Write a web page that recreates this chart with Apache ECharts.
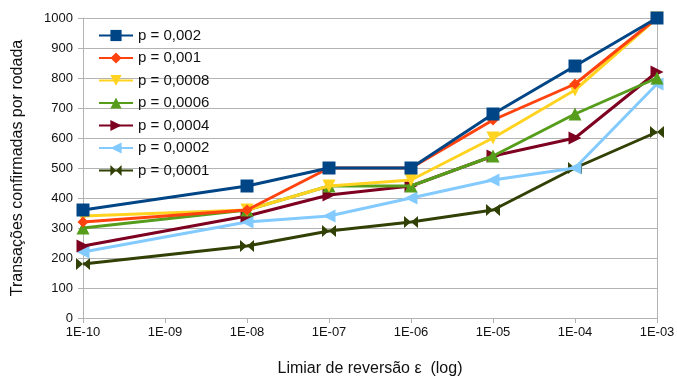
<!DOCTYPE html>
<html><head><meta charset="utf-8">
<script src="https://cdn.jsdelivr.net/npm/echarts@6/dist/echarts.min.js"></script>
<style>html,body{margin:0;padding:0;background:#fff}#c{width:677px;height:378px}</style>
</head><body><div id="c"></div>
<script>
const xs = [1e-10, 1e-8, 1e-7, 1e-6, 1e-5, 1e-4, 1e-3];
const names = ['p = 0,002','p = 0,001','p = 0,0008','p = 0,0006','p = 0,0004','p = 0,0002','p = 0,0001'];
const p0002  = [360, 440, 500, 500, 680, 840, 1000];
const p0001  = [320, 360, 500, 500, 660, 780, 1000];
const p00008 = [340, 360, 440, 460, 600, 760, 1000];
const p00006 = [300, 360, 440, 440, 540, 680, 800];
const p00004 = [240, 340, 410, 440, 540, 600, 820];
const p00002 = [220, 320, 340, 400, 460, 500, 780];
const p00001 = [180, 240, 290, 320, 360, 500, 620];
const seriesValues = [p0002, p0001, p00008, p00006, p00004, p00002, p00001];
const colors = ['#004586','#ff420e','#ffd320','#579d1c','#7e0021','#83caff','#314004'];
const symbols = ['rect','diamond','triangle','triangle','triangle','triangle','path://M0,0 L10,5 L0,10 Z M20,0 L10,5 L20,10 Z'];
const rotates = [0,0,180,0,-90,90,0];
const sizes = [13,11,13,13,13,13,[14,12]];

const chart = echarts.init(document.getElementById('c'));
chart.setOption({
  animation:false,
  textStyle:{fontFamily:'Liberation Sans'},
  grid:{left:83,right:20,top:18,bottom:60,containLabel:false,outerBoundsMode:'none'},
  legend:{
    orient:'vertical', left:93, top:23, itemWidth:34, itemHeight:14, itemGap:7.5,
    textStyle:{fontSize:15,color:'#111',fontFamily:'Liberation Sans'},
    data:names
  },
  xAxis:{
    type:'log', logBase:10, min:1e-10, max:1e-3,
    name:'Limiar de reversão ε  (log)', nameLocation:'middle', nameGap:43,
    nameTextStyle:{fontSize:16,color:'#111'},
    axisLine:{lineStyle:{color:'#b3b3b3'}},
    axisTick:{show:true,length:5,lineStyle:{color:'#b3b3b3'}},
    minorTick:{show:false},
    splitLine:{show:false},
    axisLabel:{fontSize:13,color:'#111',margin:8,
      formatter:v=>{const e=Math.round(Math.log10(v));return '1E-'+String(-e).padStart(2,'0');}}
  },
  yAxis:[{
    type:'value', min:0, max:1000, interval:100,
    name:'Transações confirmadas por rodada', nameLocation:'middle', nameGap:57,
    nameTextStyle:{fontSize:16,color:'#111'},
    axisLine:{show:true,lineStyle:{color:'#b3b3b3'}},
    axisTick:{show:true,length:5,lineStyle:{color:'#b3b3b3'}},
    splitLine:{lineStyle:{color:'#b3b3b3'}},
    axisLabel:{fontSize:13,color:'#111',margin:10,formatter:v=>String(v)}
  },{
    type:'value', min:0, max:1000, position:'right',
    axisLine:{show:true,lineStyle:{color:'#b3b3b3'}},
    axisTick:{show:false}, axisLabel:{show:false}, splitLine:{show:false}
  }],
  series: seriesValues.map((vals,i)=>({
    name:names[i], type:'line', z:10-i,
    data: xs.map((x,j)=>[x, vals[j]]),
    itemStyle:{color:colors[i]},
    lineStyle:{color:colors[i],width:3},
    symbol:symbols[i], symbolRotate:rotates[i], symbolSize:sizes[i],
    showAllSymbol:true
  }))
});
</script></body></html>
